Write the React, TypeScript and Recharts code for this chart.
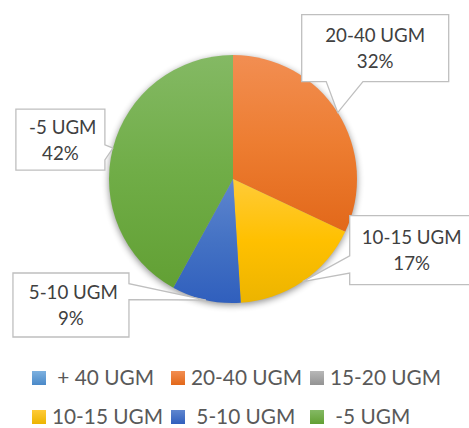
import React from 'react';
import { PieChart, Pie, Cell } from 'recharts';

// categories as they appear in the legend (Excel kept a leading space on some)
const categories = [' + 40 UGM', '20-40 UGM', '15-20 UGM', '10-15 UGM', ' 5-10 UGM', ' -5 UGM'];
const shares = [0, 32, 0, 17, 9, 42];
const colors = ['#5B9BD5', '#ED7D31', '#A5A5A5', '#FFC000', '#4472C4', '#70AD47'];
const lightColors = ['#7DB1E0', '#F28E52', '#B8B8B8', '#FFCB38', '#5F86CF', '#84B964'];
const darkColors = ['#4A89C8', '#E2681A', '#939393', '#ECB400', '#305FBD', '#62A034'];

// callout box placement: offset of box centre from the slice tip, and box size
const calloutOffsets = [
    null,
    { dx: 37.5, dy: -64.5, w: 147, h: 67 },
    null,
    { dx: 109, dy: -31.5, w: 124, h: 69 },
    { dx: -135, dy: 5, w: 116, h: 64 },
    { dx: -52.5, dy: -8.5, w: 89, h: 61 },
];

const data = categories.map((name, i) => ({ name, value: shares[i] }));

const RAD = Math.PI / 180;
const FONT = 'Lato, "Open Sans", sans-serif';

// rectangle with a wedge pointing at (tx, ty), the way Office draws a callout
const calloutPath = (cx: number, cy: number, w: number, h: number, tx: number, ty: number) => {
    const l = cx - w / 2, r = cx + w / 2, t = cy - h / 2, b = cy + h / 2;
    const dx = tx - cx, dy = ty - cy;
    const sideways = Math.abs((dx * h) / w) > Math.abs(dy);
    const pts: [number, number][] = [[l, t]];
    if (!sideways && dy < 0) {
        const a = dx > 0 ? 7 / 12 : 2 / 12, c = dx > 0 ? 10 / 12 : 5 / 12;
        pts.push([l + a * w, t], [tx, ty], [l + c * w, t]);
    }
    pts.push([r, t]);
    if (sideways && dx > 0) {
        const a = dy > 0 ? 7 / 12 : 2 / 12, c = dy > 0 ? 10 / 12 : 5 / 12;
        pts.push([r, t + a * h], [tx, ty], [r, t + c * h]);
    }
    pts.push([r, b]);
    if (!sideways && dy > 0) {
        const a = dx > 0 ? 10 / 12 : 5 / 12, c = dx > 0 ? 7 / 12 : 2 / 12;
        pts.push([l + a * w, b], [tx, ty], [l + c * w, b]);
    }
    pts.push([l, b]);
    if (sideways && dx < 0) {
        const a = dy > 0 ? 10 / 12 : 5 / 12, c = dy > 0 ? 7 / 12 : 2 / 12;
        pts.push([l, t + a * h], [tx, ty], [l, t + c * h]);
    }
    return 'M' + pts.map((p) => p.join(',')).join('L') + 'Z';
};

const renderLabel = (props: any) => {
    const { cx, cy, midAngle, outerRadius, index, percent, name, value } = props;
    const box = calloutOffsets[index];
    if (!value || !box) return <g />;
    const tx = cx + outerRadius * Math.cos(-midAngle * RAD);
    const ty = cy + outerRadius * Math.sin(-midAngle * RAD);
    const bx = tx + box.dx;
    const by = ty + box.dy;
    return (
        <g>
            <path d={calloutPath(bx, by, box.w, box.h, tx, ty)} fill="#fff" stroke="#BFBFBF" strokeWidth={1.3} />
            <text x={bx} y={by - 13} textAnchor="middle" dominantBaseline="central" fill="#404040"
                fontSize={18.7} fontFamily={FONT} style={{ whiteSpace: 'pre' }}>
                {name}
            </text>
            <text x={bx} y={by + 13} textAnchor="middle" dominantBaseline="central" fill="#404040"
                fontSize={18.7} fontFamily={FONT}>
                {`${Math.round(percent * 100)}%`}
            </text>
        </g>
    );
};

const LegendBlock = () => (
    <div style={{ position: 'absolute', left: 32, top: 358, width: 440, display: 'flex', flexWrap: 'wrap', rowGap: 0 }}>
        {categories.map((name, i) => (
            <div key={name} style={{ width: 139, height: 39, display: 'flex', alignItems: 'center' }}>
                <span style={{
                    width: 14, height: 14, marginRight: 6, flex: 'none',
                    background: `linear-gradient(${lightColors[i]}, ${darkColors[i]})`,
                }} />
                <span style={{ fontFamily: FONT, fontSize: 20.8, lineHeight: 1, color: '#595959', whiteSpace: 'pre' }}>{name}</span>
            </div>
        ))}
    </div>
);

const App: React.FC = () => {
    return (
        <div style={{ position: 'absolute', left: 0, top: 0, width: 469, height: 428, background: '#fff', overflow: 'hidden' }}>
            <PieChart width={469} height={428} margin={{ top: 0, right: 0, bottom: 0, left: 0 }}>
                <defs>
                    {colors.map((c, i) => (
                        <linearGradient key={c} id={`slice${i}`} x1="0" y1="0" x2="0" y2="1">
                            <stop offset="0%" stopColor={lightColors[i]} />
                            <stop offset="50%" stopColor={c} />
                            <stop offset="100%" stopColor={darkColors[i]} />
                        </linearGradient>
                    ))}
                    <filter id="pieShadow" x="-20%" y="-20%" width="140%" height="140%">
                        <feGaussianBlur in="SourceAlpha" stdDeviation="3.5" />
                        <feOffset dx="0" dy="2" result="blur" />
                        <feComponentTransfer>
                            <feFuncA type="linear" slope="0.45" />
                        </feComponentTransfer>
                    </filter>
                </defs>
                {/* shadow layer underneath */}
                <Pie data={data} dataKey="value" nameKey="name" cx={233} cy={179} outerRadius={124}
                    startAngle={90} endAngle={-270} stroke="none" isAnimationActive={false} legendType="none">
                    {data.map((d) => (
                        <Cell key={d.name} fill="#000" filter="url(#pieShadow)" />
                    ))}
                </Pie>
                <Pie data={data} dataKey="value" nameKey="name" cx={233} cy={179} outerRadius={124}
                    startAngle={90} endAngle={-270} stroke="none" isAnimationActive={false}
                    label={renderLabel} labelLine={false}>
                    {data.map((d, i) => (
                        <Cell key={d.name} fill={`url(#slice${i})`} />
                    ))}
                </Pie>
            </PieChart>
            <LegendBlock />
        </div>
    );
};

export default App;
